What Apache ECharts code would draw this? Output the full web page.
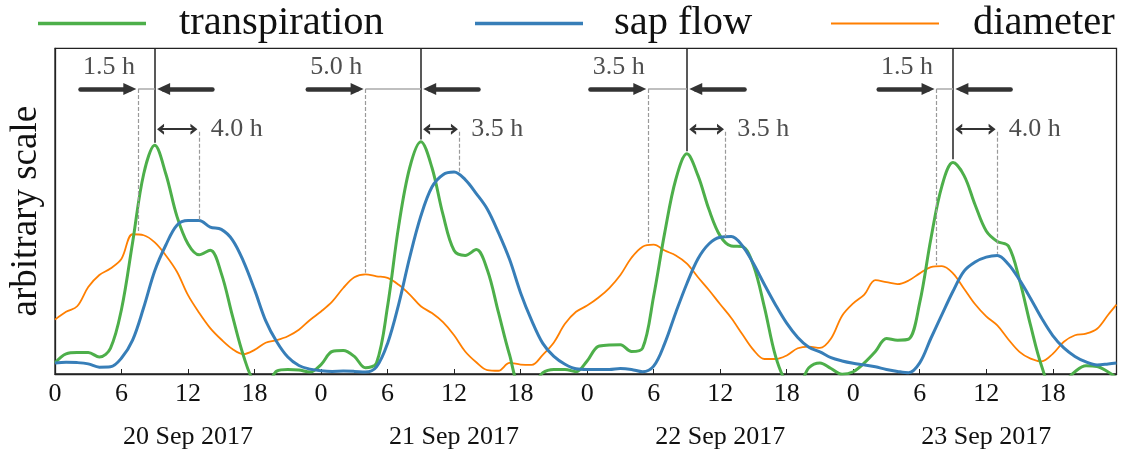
<!DOCTYPE html>
<html><head><meta charset="utf-8">
<script src="https://cdn.jsdelivr.net/npm/echarts@6/dist/echarts.min.js"></script>
<style>html,body{margin:0;padding:0;background:#fff}#c{width:1121px;height:450px}</style>
</head><body><div id="c"></div>
<script>
// ---------------- data ----------------
const HOURS = [0,1,2,3,4,5,6,7,8,9,10,11,12,13,14,15,16,17,18,19,20,21,22,23,
  24,25,26,27,28,29,30,31,32,33,34,35,36,37,38,39,40,41,42,43,44,45,46,47,
  48,49,50,51,52,53,54,55,56,57,58,59,60,61,62,63,64,65,66,67,68,69,70,71,
  72,73,74,75,76,77,78,79,80,81,82,83,84,85,86,87,88,89,90,91,92,93,94,95,95.75];

const TRANSPIRATION = [3.0,5.8,6.2,6.2,4.8,7.5,19.5,40,61,69.8,
  61,48,39.5,36.2,37.6,30.5,17.5,5.2,-3,-4,
  0.5,1,0.8,0.2,2.5,6.5,6.8,5,1.5,3,
  20.4,45,63,70.9,63,48.5,37.5,36,37.8,31.5,
  18.5,5.5,-4,-4,0,1,1,0.3,3.6,8.1,
  8.5,8.6,6.5,7.5,23.5,43,59.4,67.2,60.5,50,
  42,38.9,38.7,33,20,5,-3,-4,1.5,3,
  1.3,-0.5,0.3,3,6.5,10.5,10,10.3,21.5,41,
  57.3,64.5,60.5,51.5,43.5,40.3,38.9,28.5,14.5,2,
  -5,-3,0.3,2.1,1.9,0.2,-1.5];

const SAP_FLOW = [3,3.2,3.1,2.7,1.7,1.8,4.5,10,20,31.3,
  39.2,45.3,46.7,46.7,44.7,44,40.8,34.2,25.5,16,
  9.5,4.8,2.2,1.1,0.6,0.4,0.5,0.4,0.2,1.8,
  9,21,35.5,48.1,57,60.8,61.6,59.3,55,50.2,
  43,34.8,24.5,16,9,5,2.6,1.2,1,1,
  1,1.3,1,0.3,2,9,18.5,27.4,35,39.6,
  41.6,41.8,39,33.5,27,20.8,15.2,10.8,7.8,6.4,
  4.6,3.6,2.9,2.4,1.8,1,0.4,0,3,10.5,
  17.8,25,31.2,34,35.5,36,33.3,28.5,22.8,16.7,
  11.4,7.6,5,3.3,2.4,2.7,3];

const DIAMETER = [16.3,18.7,20.4,26.3,30,32,35,42.5,42.2,40,
  36,31,23.8,18.4,13.7,10.2,7.3,5.7,7,9.2,
  10,11.2,13.2,16.2,18.8,21.8,26,29.3,30.2,29.6,
  29.1,27,24,20.4,18.3,15.5,11.5,6.5,3.2,0.8,
  0.6,3,2.5,2.4,5.5,9.3,15,18.7,20.6,23,
  26,30,35.3,38.7,39.3,37.5,36,33.5,29.3,25.3,
  21,16.8,11.8,7,4.2,4.2,5.3,7.5,8,7.6,
  10.5,17.5,21.3,24,28.4,27.8,27.2,28.3,30.5,32.4,
  32.7,30.5,25.8,21,17.3,14.5,10.2,6.4,4.3,3.5,
  5.8,9.5,11.5,12,13.5,17.8,20.9];

const TICK_HOURS = [0,6,12,18,24,30,36,42,48,54,60,66,72,78,84,90];
const DAY_CENTERS = [12,36,60,84];
const DAY_LABELS = ['20 Sep 2017','21 Sep 2017','22 Sep 2017','23 Sep 2017'];

// annotations: transpiration peak time, diameter lead, sap-flow lag
const PEAK_HOURS = [9,33,57,81];
const LEAD = [1.5,5.0,3.5,1.5];
const LAG = [4.0,3.5,3.5,4.0];
const PEAK_VALS = [70.6,71.6,68.0,65.5];
const DIAM_VALS = [43.4,30.7,39.9,33.1];
const SAP_VALS = [46.9,61.7,41.8,36.5];

// ---------------- layout / style constants ----------------
const FONT = "'Liberation Serif','DejaVu Serif',serif";
const GREEN = '#4daf4a', BLUE = '#377eb8', ORANGE = '#ff7f00';
const Y_MIN = -0.4, Y_MAX = 99.6;
const ARROW_Y = 87.1, LAG_Y = 74.75, LEAD_LABEL_Y = 93.9, SAP_DASH_TOP = 74;
const ARROW_TAIL = 5.2, HEAD_HALF = 0.6;

const pair = (xs, ys) => xs.map((x, i) => [x, ys[i]]);

const DARK = '#333333';
const chevron = 'path://M5,0 L10,7 L7.2,7 L5,3.9 L2.8,7 L0,7 Z';

const ann = [];
PEAK_HOURS.forEach((tp, i) => {
  const td = tp - LEAD[i], ts = tp + LAG[i];
  ann.push([{coord:[tp, Y_MAX], symbol:'none', lineStyle:{color:'#222', width:1.5, type:'solid'}},
            {coord:[tp, PEAK_VALS[i]], symbol:'none'}]);
  ann.push([{coord:[td, ARROW_Y], symbol:'none', lineStyle:{color:'#aaaaaa', width:1.5, type:'solid'}},
            {coord:[tp, ARROW_Y], symbol:'none'}]);
  ann.push([{coord:[td, ARROW_Y], symbol:'none', lineStyle:{color:'#9a9a9a', width:1.2, type:[4,2]}},
            {coord:[td, DIAM_VALS[i]], symbol:'none'}]);
  ann.push([{coord:[ts, SAP_DASH_TOP], symbol:'none', lineStyle:{color:'#9a9a9a', width:1.2, type:[4,2]}},
            {coord:[ts, SAP_VALS[i]], symbol:'none'}]);
  ann.push([{coord:[td - ARROW_TAIL, ARROW_Y], symbol:'none', lineStyle:{color:DARK, width:4.5, type:'solid', cap:'round'}},
            {coord:[td - 0.15 - HEAD_HALF, ARROW_Y], symbol:'triangle', symbolSize:[12,13]}]);
  ann.push([{coord:[tp + ARROW_TAIL, ARROW_Y], symbol:'none', lineStyle:{color:DARK, width:4.5, type:'solid', cap:'round'}},
            {coord:[tp + 0.2 + HEAD_HALF, ARROW_Y], symbol:'triangle', symbolSize:[12,13]}]);
  ann.push([{coord:[tp + 0.52, LAG_Y], symbol:chevron, symbolSize:[11,7], lineStyle:{color:DARK, width:2.2, type:'solid'}},
            {coord:[ts - 0.47, LAG_Y], symbol:chevron, symbolSize:[11,7]}]);
});

const leadLabels = PEAK_HOURS.map((tp, i) => [tp - LEAD[i] - 2.64, LEAD_LABEL_Y, LEAD[i].toFixed(1) + ' h']);
const lagLabels = PEAK_HOURS.map((tp, i) => [tp + LAG[i] + 1.04, LAG_Y, LAG[i].toFixed(1) + ' h']);

const chart = echarts.init(document.getElementById('c'), null, {renderer:'canvas'});

const legendBase = (name, left, pad, thick) => ({
  data:[name], left:left, top:3, icon:'rect', itemWidth:108, itemHeight:thick, padding:0,
  selectedMode:false,
  textStyle:{fontFamily:FONT, fontSize:40.5, color:'#111', padding:[0,0,0,pad]}
});

const lineSeries = (name, data, color, width, z) => ({
  name:name, type:'line', data:data, showSymbol:false, symbol:'none',
  smooth:0.35,
  lineStyle:{color:color, width:width}, itemStyle:{color:color}, clip:true, z:z
});

chart.setOption({
  animation:false,
  backgroundColor:'#fff',
  legend:[legendBase('transpiration',38,28,3.5), legendBase('sap flow',475,26,3.5), legendBase('diameter',831,29,2.2)],
  grid:{left:52.3, right:4.5, top:48.3, bottom:75.7, show:true, borderColor:'#222', borderWidth:1.3, backgroundColor:'transparent'},
  xAxis:[{
    type:'value', min:0, max:95.75, gridIndex:0, position:'bottom',
    splitLine:{show:false},
    axisLine:{show:true, onZero:false, lineStyle:{color:'#222', width:1.3}},
    axisTick:{show:true, inside:true, length:5, lineStyle:{color:'#222', width:1}, customValues:TICK_HOURS},
    axisLabel:{customValues:TICK_HOURS, formatter:v => String(v % 24), fontFamily:FONT, fontSize:26, color:'#111', margin:7}
  },{
    type:'value', min:0, max:95.75, gridIndex:0, position:'bottom',
    splitLine:{show:false}, axisLine:{show:false}, axisTick:{show:false},
    axisLabel:{customValues:DAY_CENTERS, formatter:v => DAY_LABELS[Math.round((v - 12) / 24)], fontFamily:FONT, fontSize:26, color:'#111', margin:50}
  }],
  yAxis:{
    type:'value', min:Y_MIN, max:Y_MAX,
    splitLine:{show:false}, axisTick:{show:false}, axisLabel:{show:false},
    axisLine:{show:true, lineStyle:{color:'#222', width:1.3}},
    name:'arbitrary scale', nameLocation:'middle', nameGap:10, nameRotate:90,
    nameTextStyle:{fontFamily:FONT, fontSize:37, color:'#111'}
  },
  series:[
    lineSeries('transpiration', pair(HOURS, TRANSPIRATION), GREEN, 3, 3),
    lineSeries('sap flow', pair(HOURS, SAP_FLOW), BLUE, 3, 4),
    lineSeries('diameter', pair(HOURS, DIAMETER), ORANGE, 1.8, 2),
    {name:'annotations', type:'line', data:[], silent:true, z:5,
     markLine:{silent:true, animation:false, label:{show:false}, data:ann}},
    {name:'leadLabels', type:'scatter', data:leadLabels, symbolSize:0, silent:true, z:6,
     label:{show:true, position:'inside', formatter:p => p.value[2], fontFamily:FONT, fontSize:26, color:'#222'}},
    {name:'lagLabels', type:'scatter', data:lagLabels, symbolSize:0, silent:true, z:6,
     label:{show:true, position:'right', distance:0, formatter:p => p.value[2], fontFamily:FONT, fontSize:26, color:'#222'}}
  ]
});
</script></body></html>
